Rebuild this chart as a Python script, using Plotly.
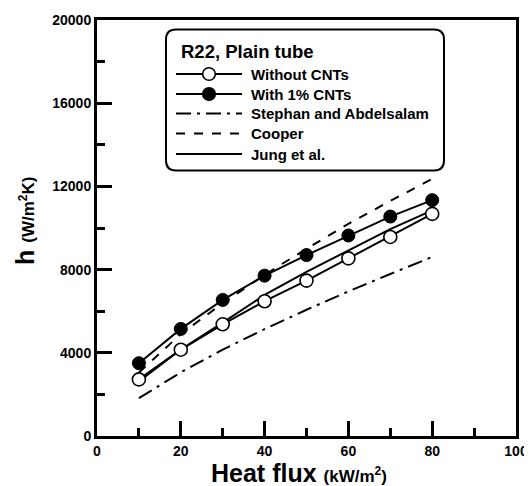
import plotly.graph_objects as go

# ---- data ----
heat_flux = [10, 20, 30, 40, 50, 60, 70, 80]
h_without_cnt = [2720, 4150, 5370, 6480, 7470, 8540, 9570, 10680]
h_with_cnt = [3500, 5150, 6540, 7710, 8700, 9640, 10550, 11340]
h_stephan = [1820, 3060, 4150, 5140, 6070, 6950, 7790, 8610]
h_cooper = [3050, 4900, 6380, 7750, 9000, 10200, 11300, 12360]
h_jung = [2620, 4160, 5450, 6780, 7890, 8930, 9950, 10850]

x_range = [0, 100]
y_range = [0, 20000]
x_major, x_minor = 20, 10
y_major, y_minor = 4000, 2000

legend_title = "R22, Plain tube"
legend_labels = ["Without CNTs", "With 1% CNTs", "Stephan and Abdelsalam", "Cooper", "Jung et al."]
x_title = "<b>Heat flux</b> <span style='font-size:17px'><b>(kW/m<sup>2</sup>)</b></span>"
y_title = "<b>h</b> <span style='font-size:17px'><b>(W/m<sup>2</sup>K)</b></span>"

FONT = "Arial"
OFF = 8  # default body margin of the html page
W, H = 532 - OFF, 486 - OFF
# plot area in page pixels
L, R, T, B = 97, 516, 20, 436

DASHDOT = "longdashdot"
DASH = "dash"

fig = go.Figure()

fig.add_trace(go.Scatter(x=heat_flux, y=h_jung, mode="lines",
                         line=dict(color="black", width=2), name="Jung et al."))
fig.add_trace(go.Scatter(x=heat_flux, y=h_cooper, mode="lines",
                         line=dict(color="black", width=2, dash=DASH), name="Cooper"))
fig.add_trace(go.Scatter(x=heat_flux, y=h_stephan, mode="lines",
                         line=dict(color="black", width=2, dash=DASHDOT), name="Stephan and Abdelsalam"))
fig.add_trace(go.Scatter(x=heat_flux, y=h_without_cnt, mode="lines+markers",
                         line=dict(color="black", width=2),
                         marker=dict(symbol="circle", size=13, color="white",
                                     line=dict(color="black", width=1.6)),
                         name="Without CNTs"))
fig.add_trace(go.Scatter(x=heat_flux, y=h_with_cnt, mode="lines+markers",
                         line=dict(color="black", width=2),
                         marker=dict(symbol="circle", size=13, color="black",
                                     line=dict(color="black", width=1)),
                         name="With 1% CNTs"))


def px(xp):
    return (xp - L) / (R - L)


def py(yp):
    return (B - yp) / (B - T)


shapes = []
annotations = []

# rounded legend box
x0, x1, y0, y1, r = 166, 444, 29.5, 170.5, 10
path = (f"M {px(x0 + r):.5f},{py(y0):.5f} L {px(x1 - r):.5f},{py(y0):.5f} "
        f"Q {px(x1):.5f},{py(y0):.5f} {px(x1):.5f},{py(y0 + r):.5f} "
        f"L {px(x1):.5f},{py(y1 - r):.5f} Q {px(x1):.5f},{py(y1):.5f} {px(x1 - r):.5f},{py(y1):.5f} "
        f"L {px(x0 + r):.5f},{py(y1):.5f} Q {px(x0):.5f},{py(y1):.5f} {px(x0):.5f},{py(y1 - r):.5f} "
        f"L {px(x0):.5f},{py(y0 + r):.5f} Q {px(x0):.5f},{py(y0):.5f} {px(x0 + r):.5f},{py(y0):.5f} Z")
shapes.append(dict(type="path", xref="paper", yref="paper", path=path,
                   line=dict(color="black", width=2)))

annotations.append(dict(xref="paper", yref="paper", x=px(179), y=py(52),
                        xanchor="left", yanchor="middle", showarrow=False,
                        text=f"<b>{legend_title}</b>",
                        font=dict(family=FONT, size=18.5, color="black")))

rows = [74, 94, 113.5, 133.5, 154]
styles = ["solid", "solid", DASHDOT, DASH, "solid"]
rad = 6.3
for i, (lab, yy, st) in enumerate(zip(legend_labels, rows, styles)):
    shapes.append(dict(type="line", xref="paper", yref="paper",
                       x0=px(176), x1=px(242), y0=py(yy), y1=py(yy),
                       line=dict(color="black", width=2, dash=st)))
    if i < 2:
        shapes.append(dict(type="circle", xref="paper", yref="paper",
                           x0=px(209 - rad), x1=px(209 + rad),
                           y0=py(yy + rad), y1=py(yy - rad),
                           fillcolor="white" if i == 0 else "black",
                           line=dict(color="black", width=1.6)))
    annotations.append(dict(xref="paper", yref="paper", x=px(249), y=py(yy),
                            xanchor="left", yanchor="middle", showarrow=False,
                            text=f"<b>{lab}</b>",
                            font=dict(family=FONT, size=15, color="black")))

# axis titles
annotations.append(dict(xref="paper", yref="paper", x=px(299), y=py(473),
                        xanchor="center", yanchor="middle", showarrow=False,
                        text=x_title, font=dict(family=FONT, size=25, color="black")))
annotations.append(dict(xref="paper", yref="paper", x=px(25), y=py(221),
                        xanchor="center", yanchor="middle", showarrow=False, textangle=-90,
                        text=y_title, font=dict(family=FONT, size=25, color="black")))

axis_common = dict(showline=True, linecolor="black", linewidth=3, mirror=True,
                   ticks="inside", ticklen=15, tickwidth=2.5, tickcolor="black",
                   showgrid=False, zeroline=False,
                   tickmode="linear", tick0=0, tickformat="d",
                   tickfont=dict(family=FONT, size=14, color="black", weight="bold"))

fig.update_layout(
    width=W, height=H, template="none",
    margin=dict(l=L - OFF, r=532 - R, t=T - OFF, b=486 - B, autoexpand=False),
    showlegend=False,
    shapes=shapes, annotations=annotations,
    xaxis=dict(range=x_range, dtick=x_major,
               minor=dict(ticks="inside", ticklen=8, tickwidth=2.5, tickcolor="black", dtick=x_minor),
               **axis_common),
    yaxis=dict(range=y_range, dtick=y_major,
               minor=dict(ticks="inside", ticklen=8, tickwidth=2.5, tickcolor="black", dtick=y_minor),
               **axis_common),
)

fig.write_html("out.html")
